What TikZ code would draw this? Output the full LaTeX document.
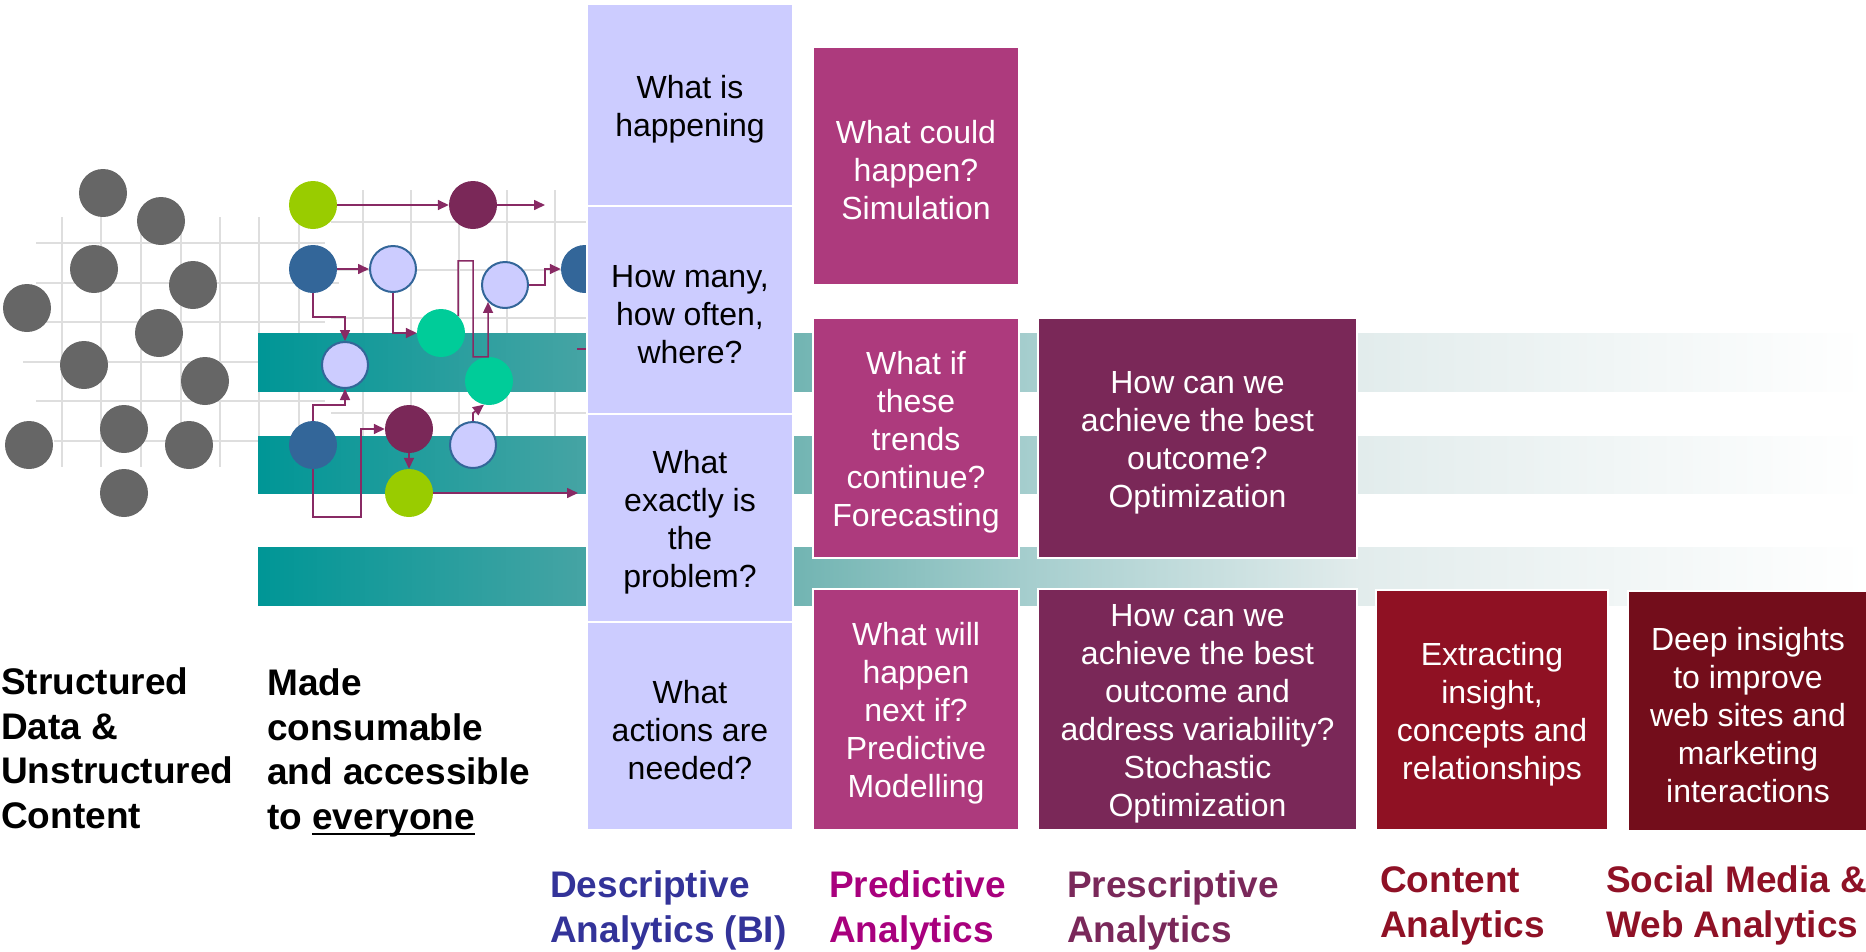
\documentclass[tikz,border=0pt]{standalone}
\usepackage{fontspec}
\setmainfont{Liberation Sans}
\usetikzlibrary{arrows.meta}

% palette
\definecolor{lav}{RGB}{204,204,255}
\definecolor{predfill}{RGB}{173,58,125}
\definecolor{prescfill}{RGB}{122,40,88}
\definecolor{contfill}{RGB}{143,17,35}
\definecolor{socfill}{RGB}{115,13,27}
\definecolor{dotgray}{RGB}{102,102,102}
\definecolor{lime}{RGB}{153,204,0}
\definecolor{mint}{RGB}{0,204,153}
\definecolor{steel}{RGB}{51,102,153}
\definecolor{plum}{RGB}{122,40,88}
\definecolor{flow}{RGB}{136,42,100}
\definecolor{gridgray}{RGB}{222,222,222}
\definecolor{desctext}{RGB}{51,51,153}
\definecolor{predtext}{RGB}{168,0,125}
\definecolor{presctext}{RGB}{122,40,90}
\definecolor{conttext}{RGB}{143,17,38}
\definecolor{tealA}{RGB}{0,150,150}
\definecolor{tealB}{RGB}{70,164,164}
\definecolor{tealC}{RGB}{115,181,179}
\definecolor{tealD}{RGB}{166,206,206}
\definecolor{tealE}{RGB}{226,236,236}

\newcommand{\boxfont}{\fontsize{32}{38}\selectfont}
\newcommand{\lblfont}{\bfseries\fontsize{37}{44.5}\selectfont}
% taller first line, so the block sits a little lower in its box
\newcommand{\tstrut}{\rule{0pt}{31pt}}
% underline at a fixed depth, crossing the descenders
\newsavebox{\ulbox}
\newcommand{\lowul}[1]{\sbox{\ulbox}{#1}\rlap{\rule[-6pt]{\wd\ulbox}{2pt}}\usebox{\ulbox}}

\tikzset{
  gridline/.style={draw=gridgray, line width=1.8pt},
  flowline/.style={draw=flow, line width=1.6pt},
  flowarrow/.style={flowline, -{Triangle[length=11pt,width=10pt]}},
  dot/.style={circle, inner sep=0pt, minimum size=48pt, draw=none},
  graydot/.style={dot, fill=dotgray},
  ringdot/.style={circle, inner sep=0pt, minimum size=46pt, fill=lav, draw=steel, line width=2pt},
  qbox/.style={rectangle, inner sep=0pt, draw=white, line width=2pt, align=center, font=\boxfont},
  descbox/.style={qbox, fill=lav, text=black, minimum width=206pt},
  predbox/.style={qbox, fill=predfill, text=white, minimum width=206pt},
  prescbox/.style={qbox, fill=prescfill, text=white, minimum width=319pt},
  contbox/.style={qbox, fill=contfill, text=white, minimum width=232pt},
  socbox/.style={qbox, fill=socfill, text=white, minimum width=240pt},
  lbl/.style={inner sep=0pt, align=left, font=\lblfont, anchor=base west},
}

\begin{document}
\begin{tikzpicture}[x=1pt, y=-1pt]
\useasboundingbox (0,0) rectangle (1866,951);
\clip (0,0) rectangle (1866,951);

% background grid behind the data dots
\foreach \x in {62,101,141,181,220,259,299}
  \draw[gridline] (\x,217) -- (\x,467);
\foreach \y/\xa/\xb in {243/36/325, 283/36/339, 322/36/325, 362/23/325, 401/36/325, 441/54/260}
  \draw[gridline] (\xa,\y) -- (\xb,\y);
\foreach \x in {363,411,459,507,555}
  \draw[gridline] (\x,190) -- (\x,436);
\foreach \y in {222,270,318,366,413}
  \draw[gridline] (331,\y) -- (587,\y);

% teal bands fading to white
\foreach \xa/\xb/\ca/\cb in {258/588/tealA/tealB, 587/801/tealB/tealC, 800/1031/tealC/tealD, 1030/1361/tealD/tealE, 1360/1866/tealE/white}
  \foreach \yt/\yb in {333/391, 436/493, 547/605}
    \shade[left color=\ca, right color=\cb] (\xa,\yt) rectangle (\xb,\yb);

% raw data points
\foreach \n/\x/\y in {1/103/193, 2/161/221, 3/94/269, 4/193/285, 5/27/308, 6/159/333,
                      7/84/365, 8/205/381, 9/124/429, 10/29/445, 11/189/445, 12/124/493}
  \node[graydot] (g\n) at (\x,\y) {};

% flow network
\node[dot, fill=lime]  (lime1)  at (313,205) {};
\node[dot, fill=plum]  (plum1)  at (473,205) {};
\node[dot, fill=steel] (steel1) at (313,269) {};
\node[ringdot]         (ring1)  at (393,269) {};
\node[ringdot]         (ring2)  at (505,285) {};
\node[dot, fill=steel] (steel3) at (585,269) {};
\node[dot, fill=mint]  (mint1)  at (441,333) {};
\node[dot, fill=mint]  (mint2)  at (489,381) {};
\node[ringdot]         (ring3)  at (345,365) {};
\node[dot, fill=steel] (steel2) at (313,445) {};
\node[dot, fill=plum]  (plum2)  at (409,429) {};
\node[ringdot]         (ring4)  at (473,445) {};
\node[dot, fill=lime]  (lime2)  at (409,493) {};
\coordinate (out1) at (545,205);
\coordinate (out2) at (578,493);
\coordinate (stubA) at (577,349);
\coordinate (stubB) at (592,349);

\draw[flowarrow] (lime1) -- (plum1);
\draw[flowarrow] (plum1) -- (out1);
\draw[flowarrow] (steel1) -- (ring1);
\draw[flowarrow] (steel1.south) -- ++(0,24) -| (ring3.north);
\draw[flowarrow] (ring1.south) |- (mint1.west);
\draw[flowarrow] (mint1.45) -- ++(0,-55) -- ++(15,0) -- ++(0,96) -- ++(15,0) -- (ring2.225);
\draw[flowarrow] (ring2.east) -- ++(16,0) |- (steel3.west);
\draw[flowarrow] (steel2.north) -- ++(0,-16) -| (ring3.south);
\draw[flowarrow] (steel2.south) -- ++(0,48) -- ++(48,0) |- (plum2.west);
\draw[flowarrow] (plum2) -- (lime2);
\draw[flowarrow] (lime2) -- (out2);
\draw[flowarrow] (ring4.north) -- ++(0,-8) -- (mint2.258);
\draw[flowline] (stubA) -- (stubB);

% descriptive analytics column
\node[descbox, minimum height=202pt] (d1) at (690,105) {\tstrut What is\\happening};
\node[descbox, minimum height=208pt] (d2) at (690,310) {\tstrut How many,\\how often,\\where?};
\node[descbox, minimum height=208pt] (d3) at (690,518) {\tstrut What\\exactly is\\the\\problem?};
\node[descbox, minimum height=208pt] (d4) at (690,726) {\tstrut What\\actions are\\needed?};

% predictive analytics column
\node[predbox, minimum height=238pt] (p1) at (916,166) {\tstrut What could\\happen?\\Simulation};
\node[predbox, minimum height=240pt] (p2) at (916,438) {\tstrut What if\\these\\trends\\continue?\\Forecasting};
\node[predbox, minimum height=241pt] (p3) at (916,709.5) {\tstrut What will\\happen\\next if?\\Predictive\\Modelling};

% prescriptive analytics column
\node[prescbox, minimum height=240pt] (s1) at (1197.5,438) {\tstrut How can we\\achieve the best\\outcome?\\Optimization};
\node[prescbox, minimum height=241pt] (s2) at (1197.5,709.5) {\tstrut How can we\\achieve the best\\outcome and\\address variability?\\Stochastic\\Optimization};

% content and social analytics
\node[contbox, minimum height=240pt] (c1) at (1492,710) {\tstrut Extracting\\insight,\\concepts and\\relationships};
\node[socbox, minimum height=240pt] (w1) at (1748,711) {\tstrut Deep insights\\to improve\\web sites and\\marketing\\interactions};

% captions (anchored on the baseline of their last line)
\node[lbl] (src) at (1,828) {Structured\\Data \&\\Unstructured\\Content};
\node[lbl] (use) at (267,829) {Made\\consumable\\and accessible\\to \lowul{everyone}};
\node[lbl, text=desctext]  (ld) at (550,942) {Descriptive\\Analytics (BI)};
\node[lbl, text=predtext]  (lp) at (829,942) {Predictive\\Analytics};
\node[lbl, text=presctext] (ls) at (1067,942) {Prescriptive\\Analytics};
\node[lbl, text=conttext]  (lc) at (1380,937) {Content\\Analytics};
\node[lbl, text=conttext]  (lw) at (1606,937) {Social Media \&\\Web Analytics};
\end{tikzpicture}
\end{document}
